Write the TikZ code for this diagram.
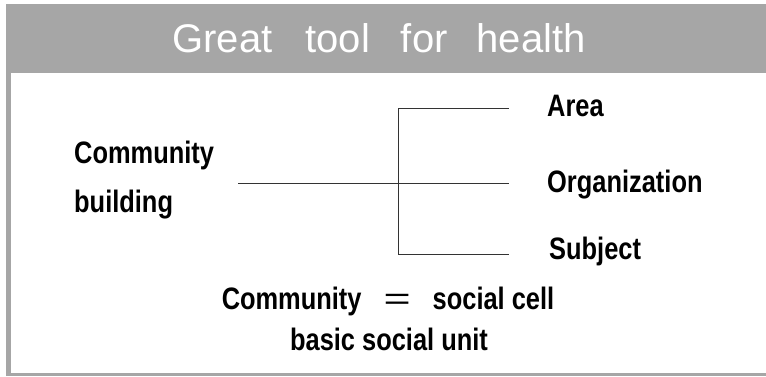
\documentclass[tikz,border=0pt]{standalone}
\usepackage{fontspec}
\usepackage{graphicx}
\setmainfont{Liberation Sans}
\newfontfamily\bodyfont{Liberation Sans Bold}[FakeStretch=0.82]
\newfontfamily\eqfont{Liberation Sans}
\definecolor{bandgray}{HTML}{A6A6A6}
\definecolor{linegray}{HTML}{333333}
\begin{document}
\begin{tikzpicture}[x=1pt,y=-1pt,
  lbl/.style={inner sep=0pt, anchor=base west, font=\bodyfont\fontsize{31}{37}\selectfont, text=black},
  conn/.style={draw=linegray, line width=0.9pt},
  band/.style={fill=bandgray, draw=none}]
\useasboundingbox (0,0) rectangle (766,376);
% frame
\fill[band] (6,4) rectangle (766,73);
\fill[band] (6,73) rectangle (11,376);
\fill[band] (6,373) rectangle (766,376);
% title
\node[inner sep=0pt, anchor=base, text=white, font=\fontsize{40}{48}\selectfont] (title) at (379,52.5)
  {Great\hspace{33pt}tool\hspace{31pt}for\hspace{29pt}health};
% left label
\node[lbl] (cb1) at (74,163) {Community};
\node[lbl] (cb2) at (74,212) {building};
% right labels
\node[lbl] (area) at (547,116) {Area};
\node[lbl] (org) at (547,192) {Organization};
\node[lbl] (subj) at (549,259) {Subject};
% bottom
\node[lbl, anchor=base] (eq) at (388,309) {Community\hspace{22pt}{\eqfont\scalebox{1.5}[1]{=}}\hspace{22pt}social cell};
\node[lbl, anchor=base] (unit) at (389,350) {basic social unit};
% connectors
\coordinate (hs) at (238,183);
\coordinate (jt) at (398,108);
\coordinate (jm) at (398,183);
\coordinate (jb) at (398,254);
\coordinate (et) at (509,108);
\coordinate (em) at (509,183);
\coordinate (eb) at (509,254);
\draw[conn] (hs) -- (em);
\draw[conn] (et) -- (jt) -- (jb) -- (eb);
\end{tikzpicture}
\end{document}
